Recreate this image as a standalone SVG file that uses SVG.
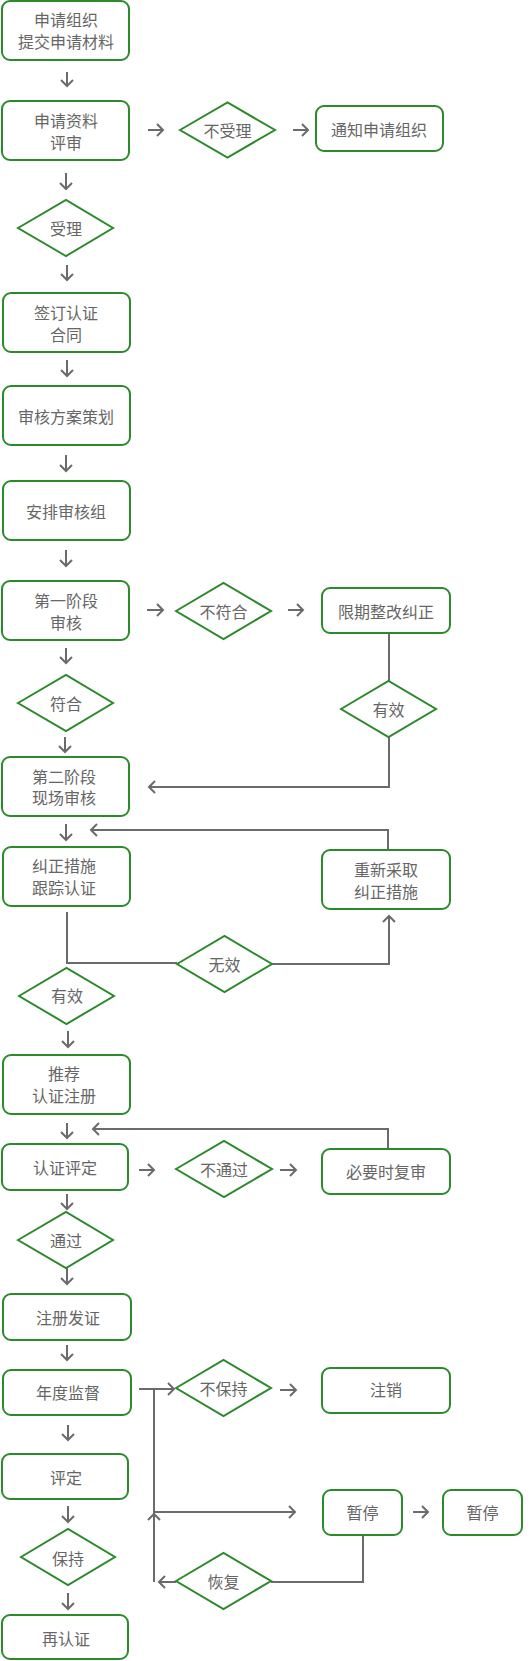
<svg xmlns="http://www.w3.org/2000/svg" width="530" height="1661" viewBox="0 0 530 1661">
<style>
.b{fill:#fff;stroke:#2b8a2b;stroke-width:2}
.t{font-family:"Noto Sans CJK SC","Noto Sans",sans-serif;font-size:16px;fill:#666;text-anchor:middle;dominant-baseline:central}
.c{stroke:#6b6b6b;stroke-width:2;fill:none}
</style>
<defs>
<marker id="a" markerUnits="userSpaceOnUse" viewBox="-8 -8 10 16" markerWidth="10" markerHeight="16" refX="0" refY="0" orient="auto" overflow="visible">
<path d="M-6,-6 L0,0 L-6,6" fill="none" stroke="#6b6b6b" stroke-width="2"/>
</marker>
</defs>
<rect width="530" height="1661" fill="#fff"/>
<g id="connectors" class="c" marker-end="url(#a)">
<path d="M67,72 V86"/>
<path d="M66,173 V189"/>
<path d="M67,265 V280"/>
<path d="M67,360 V376"/>
<path d="M66,455 V471"/>
<path d="M66,550 V566"/>
<path d="M66,648 V663"/>
<path d="M65,737 V752"/>
<path d="M66,824 V840"/>
<path d="M68,1031 V1047"/>
<path d="M67,1123 V1138"/>
<path d="M67,1194 V1209"/>
<path d="M67,1268 V1284"/>
<path d="M67,1345 V1360"/>
<path d="M68,1425 V1440"/>
<path d="M68,1506 V1522"/>
<path d="M68,1593 V1609"/>
<path d="M148,130 H163"/>
<path d="M293,130 H308"/>
<path d="M147,610 H163"/>
<path d="M288,610 H303"/>
<path d="M139,1170 H154"/>
<path d="M280,1170 H296"/>
<path d="M280,1390 H296"/>
<path d="M413,1512 H428"/>
<path d="M389,633 V681" marker-end="none"/>
<path d="M389,737 V787 H149"/>
<path d="M388,850 V830 H91"/>
<path d="M67,912 V963 H177" marker-end="none"/>
<path d="M272,964 H389 V916"/>
<path d="M388,1148 V1129 H93"/>
<path d="M139,1389 H174"/>
<path d="M154,1389 V1582" marker-end="none"/>
<path d="M154,1512 H295"/>
<path d="M363,1535 V1582 H271" marker-end="none"/>
<path d="M176,1582 H159"/>
<path d="M148,1520 L154,1514 L160,1520" marker-end="none"/>
</g>
<g id="n1"><rect class="b" x="2" y="1" width="127" height="59" rx="8"/><text class="t" x="66" y="19">申请组织</text><text class="t" x="66" y="41">提交申请材料</text></g>
<g id="n2"><rect class="b" x="2" y="101" width="127" height="59" rx="8"/><text class="t" x="66" y="120">申请资料</text><text class="t" x="66" y="142">评审</text></g>
<g id="d1"><polygon class="b" points="180,130 227.5,102.5 275,130 227.5,157.5"/><text class="t" x="227.5" y="130">不受理</text></g>
<g id="n3"><rect class="b" x="316" y="106" width="127" height="45" rx="8"/><text class="t" x="379" y="128.5">通知申请组织</text></g>
<g id="d2"><polygon class="b" points="18,228 66,200 113,228 66,256"/><text class="t" x="66" y="228">受理</text></g>
<g id="n4"><rect class="b" x="3" y="293" width="127" height="59" rx="8"/><text class="t" x="66" y="312">签订认证</text><text class="t" x="66" y="334">合同</text></g>
<g id="n5"><rect class="b" x="3" y="386" width="127" height="59" rx="8"/><text class="t" x="66" y="415.5">审核方案策划</text></g>
<g id="n6"><rect class="b" x="3" y="481" width="127" height="59" rx="8"/><text class="t" x="66" y="510.5">安排审核组</text></g>
<g id="n7"><rect class="b" x="2" y="581" width="127" height="59" rx="8"/><text class="t" x="66" y="600">第一阶段</text><text class="t" x="66" y="622">审核</text></g>
<g id="d3"><polygon class="b" points="176,611 223.5,583 271,611 223.5,639"/><text class="t" x="223.5" y="611">不符合</text></g>
<g id="n8"><rect class="b" x="322" y="588" width="128" height="45" rx="8"/><text class="t" x="386" y="610.5">限期整改纠正</text></g>
<g id="d4"><polygon class="b" points="341,709 388.5,681 436,709 388.5,737"/><text class="t" x="388.5" y="709">有效</text></g>
<g id="d5"><polygon class="b" points="18,703 66,675 113,703 66,731"/><text class="t" x="66" y="703">符合</text></g>
<g id="n9"><rect class="b" x="2" y="757" width="127" height="59" rx="8"/><text class="t" x="64" y="776">第二阶段</text><text class="t" x="64" y="797">现场审核</text></g>
<g id="n10"><rect class="b" x="3" y="847" width="127" height="59" rx="8"/><text class="t" x="64" y="865">纠正措施</text><text class="t" x="64" y="887">跟踪认证</text></g>
<g id="n11"><rect class="b" x="322" y="850" width="128" height="59" rx="8"/><text class="t" x="386" y="869">重新采取</text><text class="t" x="386" y="891">纠正措施</text></g>
<g id="d6"><polygon class="b" points="177,964 224.5,936 272,964 224.5,992"/><text class="t" x="224.5" y="964">无效</text></g>
<g id="d7"><polygon class="b" points="19,996 66.5,968 114,996 66.5,1024"/><text class="t" x="67" y="995">有效</text></g>
<g id="n12"><rect class="b" x="3" y="1055" width="127" height="59" rx="8"/><text class="t" x="64" y="1073">推荐</text><text class="t" x="64" y="1095">认证注册</text></g>
<g id="n13"><rect class="b" x="2" y="1144" width="126" height="46" rx="8"/><text class="t" x="65" y="1167">认证评定</text></g>
<g id="d8"><polygon class="b" points="176,1169 224,1141 272,1169 224,1197"/><text class="t" x="224" y="1169">不通过</text></g>
<g id="n14"><rect class="b" x="322" y="1149" width="128" height="45" rx="8"/><text class="t" x="386" y="1171">必要时复审</text></g>
<g id="d9"><polygon class="b" points="18,1240 66,1212 113,1240 66,1268"/><text class="t" x="66" y="1240">通过</text></g>
<g id="n15"><rect class="b" x="3" y="1294" width="128" height="46" rx="8"/><text class="t" x="68" y="1317">注册发证</text></g>
<g id="n16"><rect class="b" x="3" y="1370" width="128" height="45" rx="8"/><text class="t" x="68" y="1392">年度监督</text></g>
<g id="d10"><polygon class="b" points="176,1388 223.5,1360 271,1388 223.5,1416"/><text class="t" x="223.5" y="1388">不保持</text></g>
<g id="n17"><rect class="b" x="322" y="1368" width="128" height="45" rx="8"/><text class="t" x="386" y="1389">注销</text></g>
<g id="n18"><rect class="b" x="2" y="1454" width="126" height="45" rx="8"/><text class="t" x="66" y="1477">评定</text></g>
<g id="d11"><polygon class="b" points="21,1557 68,1529 115,1557 68,1585"/><text class="t" x="68" y="1558">保持</text></g>
<g id="n19"><rect class="b" x="323" y="1490" width="79" height="45" rx="8"/><text class="t" x="362.5" y="1512">暂停</text></g>
<g id="n20"><rect class="b" x="443" y="1490" width="79" height="45" rx="8"/><text class="t" x="482.5" y="1512">暂停</text></g>
<g id="d12"><polygon class="b" points="176,1581 223.5,1553 271,1581 223.5,1609"/><text class="t" x="223.5" y="1581">恢复</text></g>
<g id="n21"><rect class="b" x="2" y="1615" width="126" height="44" rx="8"/><text class="t" x="66" y="1638">再认证</text></g>
</svg>
